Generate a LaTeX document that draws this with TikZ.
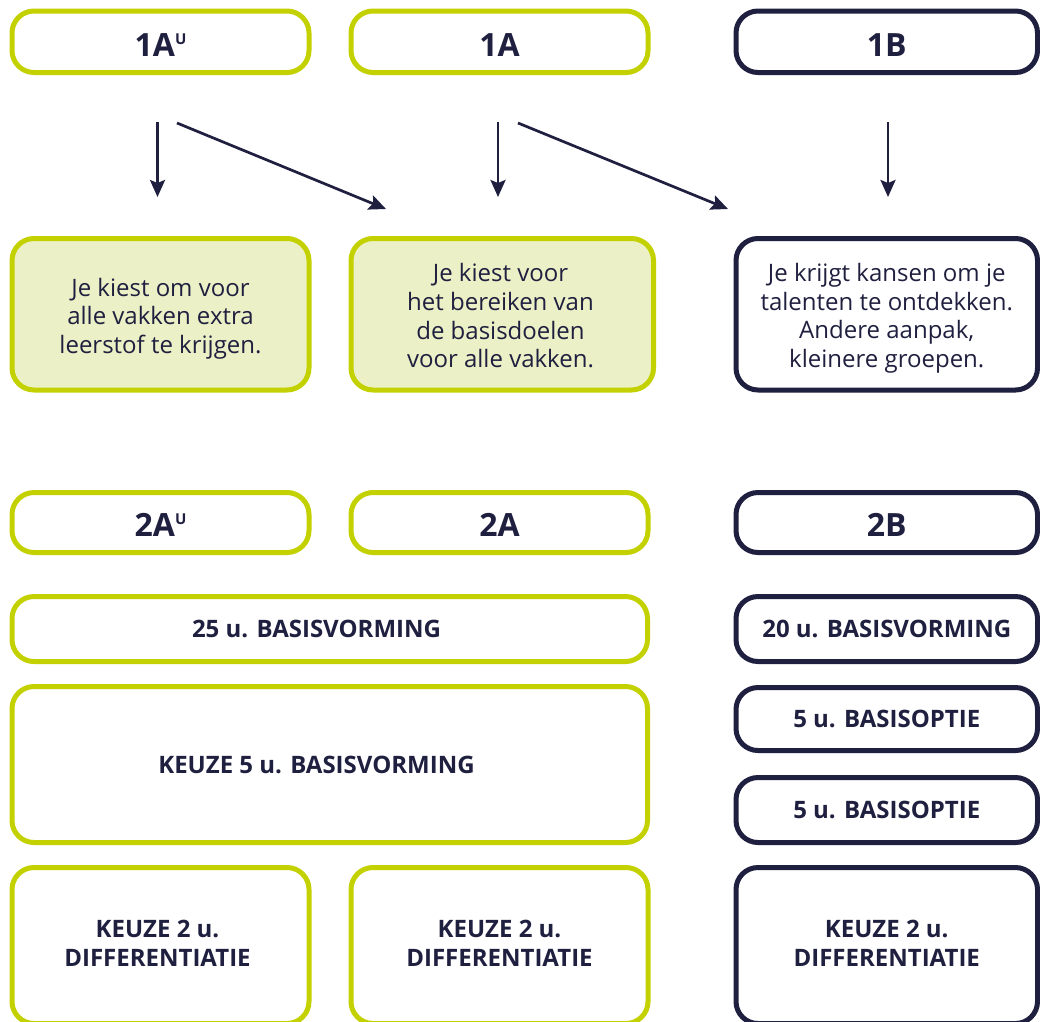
\documentclass[tikz,border=0pt]{standalone}
\usepackage{fontspec}
\setmainfont{Open Sans}
\usetikzlibrary{arrows.meta}
\definecolor{lime}{HTML}{C3D100}
\definecolor{navy}{HTML}{1F1F3F}
\definecolor{pale}{HTML}{EBF0C6}
\newcommand{\supU}{\raisebox{12pt}{\fontsize{15}{15}\selectfont U}}
\begin{document}
\begin{tikzpicture}[x=1pt,y=-1pt,
  rbox/.style={rounded corners=22pt, line width=5pt, inner sep=0pt, text=navy, align=center},
  gbox/.style={rbox, draw=lime},
  nbox/.style={rbox, draw=navy},
  gfill/.style={gbox, fill=pale},
  txt/.style={inner sep=0pt, text=navy, align=center},
  hdr/.style={font=\fontsize{32}{34}\selectfont\bfseries, text height=28.5pt, text depth=0pt},
  lbl/.style={font=\fontsize{24}{29.5}\selectfont\bfseries},
  body/.style={txt, font=\fontsize{24}{28.7}\selectfont},
  arr/.style={draw=navy, line width=2.7pt, -{Stealth[length=17pt,width=15pt,inset=3pt]}}
]
\useasboundingbox (0,0) rectangle (1040,1021);
\clip (0,0) rectangle (1040,1021);

% row 1 headers
\node[gbox,hdr,minimum width=297pt,minimum height=61.5pt] (h1) at (160.5,41.75) {1A\supU};
\node[gbox,hdr,minimum width=297pt,minimum height=61.5pt] (h2) at (499.5,41.75) {1A};
\node[nbox,hdr,minimum width=301.5pt,minimum height=61.5pt] (h3) at (886.75,41.75) {1B};

% arrows
\coordinate (a1s) at (157.5,122); \coordinate (a1e) at (157.5,197);
\coordinate (a2s) at (177,123);   \coordinate (a2e) at (386,209);
\coordinate (a3s) at (498,122);   \coordinate (a3e) at (498,197);
\coordinate (a4s) at (518,123);   \coordinate (a4e) at (728,209);
\coordinate (a5s) at (888,122);   \coordinate (a5e) at (888,197);
\draw[arr] (a1s) -- (a1e);
\draw[arr] (a2s) -- (a2e);
\draw[arr] (a3s) -- (a3e);
\draw[arr] (a4s) -- (a4e);
\draw[arr] (a5s) -- (a5e);

% row 2 descriptions
\node[gfill,minimum width=297pt,minimum height=151.5pt] (d1) at (160.5,314.25) {};
\node[body] (d1t) at (160.5,318.5) {Je kiest om voor\\alle vakken extra\\leerstof te krijgen.};
\node[gfill,minimum width=302.5pt,minimum height=151.5pt] (d2) at (502.25,314.25) {};
\node[body] (d2t) at (500.5,315.75) {Je kiest voor\\het bereiken van\\de basisdoelen\\voor alle vakken.};
\node[nbox,minimum width=301.5pt,minimum height=151.5pt] (d3) at (886.75,314.25) {};
\node[body] (d3t) at (886.75,318.25) {Je krijgt kansen om je\\talenten te ontdekken.\\Andere aanpak,\\kleinere groepen.};

% row 3 headers
\node[gbox,hdr,minimum width=297pt,minimum height=60pt] (g1) at (160.5,522.5) {2A\supU};
\node[gbox,hdr,minimum width=297pt,minimum height=60pt] (g2) at (499.5,522.5) {2A};
\node[nbox,hdr,minimum width=301.5pt,minimum height=60pt] (g3) at (886.75,522.5) {2B};

% left block
\node[gbox,minimum width=635.5pt,minimum height=65pt] (bv25) at (329.75,629) {};
\node[txt,lbl] (bv25t) at (316.5,629) {25 u. BASISVORMING};
\node[gbox,minimum width=635.5pt,minimum height=156pt] (kz5) at (329.75,764.5) {};
\node[txt,lbl] (kz5t) at (316.5,764.5) {KEUZE 5 u. BASISVORMING};

% right block
\node[nbox,lbl,minimum width=301.5pt,minimum height=65pt] (bv20) at (886.75,629) {20 u. BASISVORMING};
\node[nbox,lbl,minimum width=301.5pt,minimum height=63pt] (bo1) at (886.75,719) {5 u. BASISOPTIE};
\node[nbox,lbl,minimum width=301.5pt,minimum height=65pt] (bo2) at (886.75,810) {5 u. BASISOPTIE};

% bottom row
\node[gbox,lbl,minimum width=297pt,minimum height=156pt] (df1) at (160.5,945.5) {};
\node[txt,lbl] (df1t) at (157.5,943.5) {KEUZE 2 u.\\DIFFERENTIATIE};
\node[gbox,lbl,minimum width=297pt,minimum height=156pt] (df2) at (499.5,945.5) {};
\node[txt,lbl] (df2t) at (499.5,943.5) {KEUZE 2 u.\\DIFFERENTIATIE};
\node[nbox,lbl,minimum width=301.5pt,minimum height=156pt] (df3) at (886.75,945.5) {};
\node[txt,lbl] (df3t) at (886.75,943.5) {KEUZE 2 u.\\DIFFERENTIATIE};
\end{tikzpicture}
\end{document}
